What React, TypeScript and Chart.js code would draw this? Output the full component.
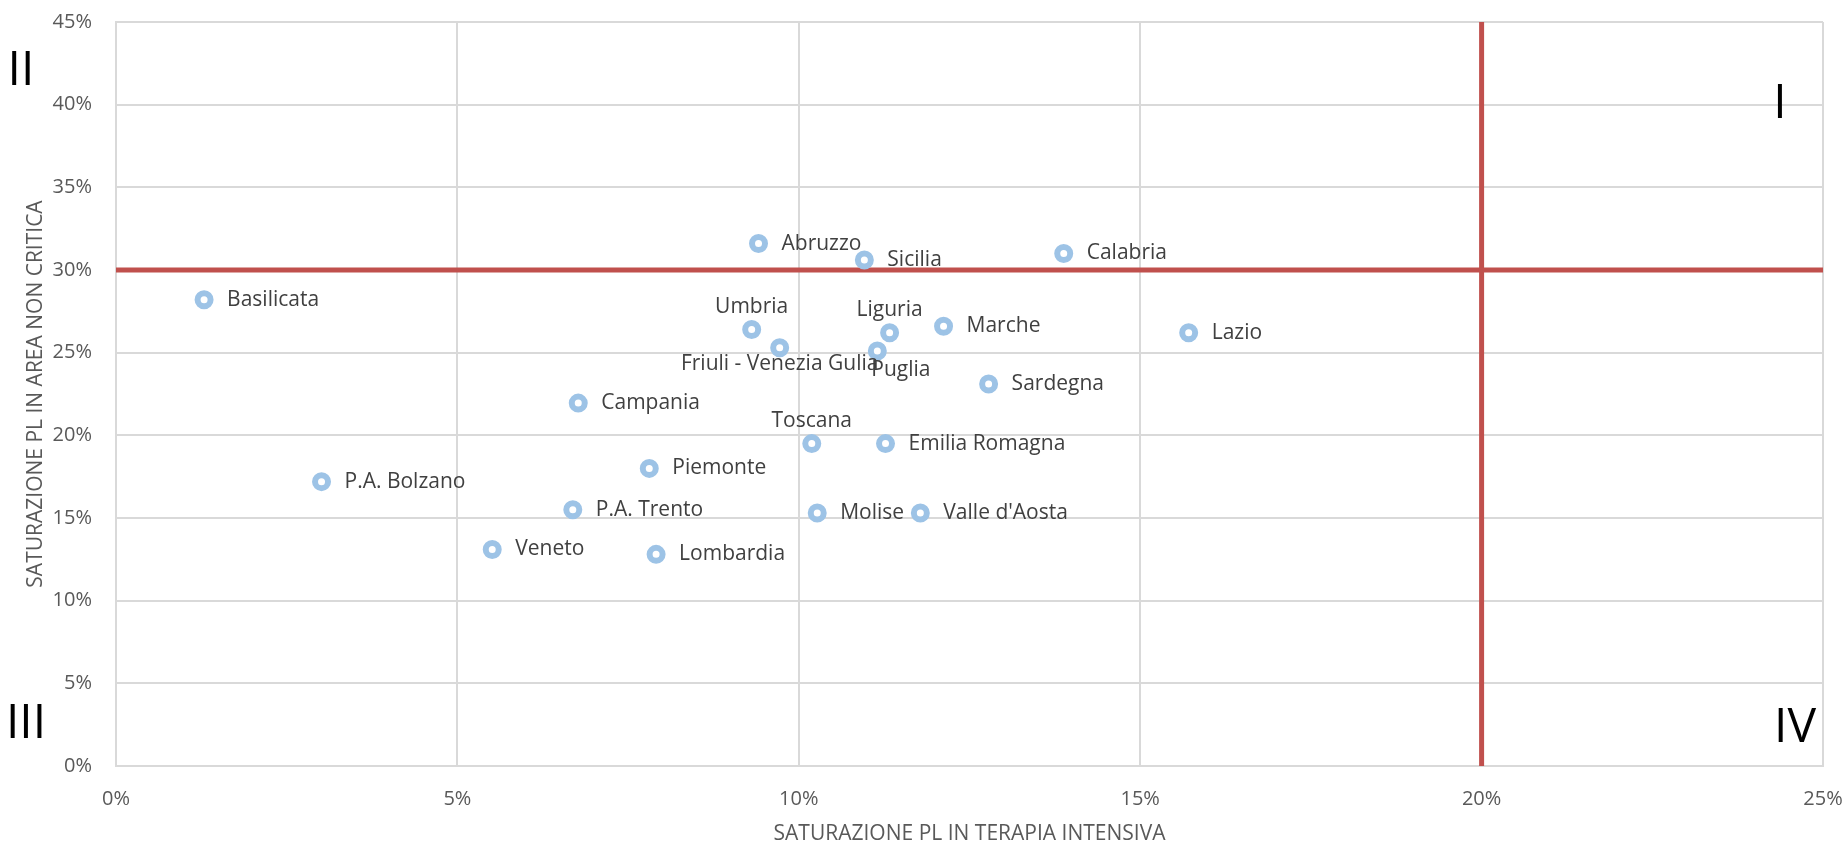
import React, { useEffect, useRef } from 'react';
import { Chart, registerables } from 'chart.js';

Chart.register(...registerables);

// ---- Data ----
const regions = [
  'Basilicata', 'P.A. Bolzano', 'Veneto', 'P.A. Trento', 'Campania', 'Piemonte', 'Lombardia',
  'Umbria', 'Abruzzo', 'Friuli - Venezia Gulia', 'Toscana', 'Molise', 'Sicilia', 'Puglia',
  'Liguria', 'Emilia Romagna', "Valle d'Aosta", 'Marche', 'Sardegna', 'Calabria', 'Lazio',
];
// Saturazione PL in terapia intensiva (%)
const icuSaturation = [
  1.29, 3.01, 5.51, 6.69, 6.77, 7.81, 7.91,
  9.31, 9.41, 9.72, 10.19, 10.27, 10.96, 11.15,
  11.33, 11.27, 11.78, 12.12, 12.78, 13.88, 15.71,
];
// Saturazione PL in area non critica (%)
const nonCriticalSaturation = [
  28.2, 17.2, 13.1, 15.5, 21.95, 18.0, 12.8,
  26.4, 31.6, 25.3, 19.5, 15.3, 30.6, 25.1,
  26.2, 19.5, 15.3, 26.6, 23.1, 31.0, 26.2,
];
const labelPlacement = [
  'right', 'right', 'right', 'right', 'right', 'right', 'right',
  'above', 'right', 'below', 'above', 'right', 'right', 'below-right',
  'above', 'right', 'right', 'right', 'right', 'right', 'right',
];
const xAxisMax = 25;
const yAxisMax = 45;
const tickStep = 5;
const icuThreshold = 20;
const nonCriticalThreshold = 30;
const xTitle = 'SATURAZIONE PL IN TERAPIA INTENSIVA';
const yTitle = 'SATURAZIONE PL IN AREA NON CRITICA';
const quadrantNames = ['I', 'II', 'III', 'IV'];

const FONT = "'Open Sans', 'Noto Sans', sans-serif";

const pointLabelsPlugin = {
  id: 'pointLabels',
  afterDatasetsDraw(chart: any) {
    const meta = chart.getDatasetMeta(0);
    const ctx = chart.ctx;
    ctx.save();
    ctx.font = `21px ${FONT}`;
    ctx.fillStyle = '#404040';
    meta.data.forEach((el: any, i: number) => {
      const { x, y } = el.getProps(['x', 'y'], true);
      const p = labelPlacement[i];
      const text = regions[i];
      ctx.textBaseline = 'middle';
      if (p === 'right') {
        ctx.textAlign = 'left';
        ctx.fillText(text, x + 23, y);
      } else if (p === 'above') {
        ctx.textAlign = 'center';
        ctx.fillText(text, x, y - 23);
      } else if (p === 'below') {
        ctx.textAlign = 'center';
        ctx.fillText(text, x, y + 16);
      } else if (p === 'below-right') {
        ctx.textAlign = 'left';
        ctx.fillText(text, x - 6, y + 19);
      }
    });
    ctx.restore();
  },
};

const quadrantPlugin = {
  id: 'quadrants',
  afterDraw(chart: any) {
    const { left, right, top, bottom } = chart.chartArea;
    const ctx = chart.ctx;
    ctx.save();
    ctx.font = `48px ${FONT}`;
    ctx.fillStyle = '#000000';
    ctx.textAlign = 'center';
    ctx.textBaseline = 'middle';
    const pos = [
      [right - 43, top + 82],
      [left - 95, top + 49],
      [left - 90, bottom - 42],
      [right - 28, bottom - 38],
    ];
    quadrantNames.forEach((q, i) => ctx.fillText(q, pos[i][0], pos[i][1]));
    ctx.restore();
  },
};

export default function App() {
  const canvasRef = useRef<HTMLCanvasElement | null>(null);

  useEffect(() => {
    document.body.style.margin = '0';
    const canvas = canvasRef.current;
    if (!canvas) return;
    const points = regions.map((_, i) => ({ x: icuSaturation[i], y: nonCriticalSaturation[i] }));
    const chart = new Chart(canvas, {
      type: 'scatter',
      data: {
        datasets: [
          {
            label: 'Regioni',
            data: points,
            pointRadius: 6.5,
            pointBorderWidth: 6,
            pointBackgroundColor: '#FFFFFF',
            pointBorderColor: '#9DC3E6',
            order: 0,
          },
          {
            label: 'Soglia area non critica',
            type: 'line',
            data: [{ x: 0, y: nonCriticalThreshold }, { x: xAxisMax, y: nonCriticalThreshold }],
            borderColor: '#C0504D',
            borderWidth: 5,
            pointRadius: 0,
            order: 1,
          } as any,
          {
            label: 'Soglia terapia intensiva',
            type: 'line',
            data: [{ x: icuThreshold, y: 0 }, { x: icuThreshold, y: yAxisMax }],
            borderColor: '#C0504D',
            borderWidth: 5,
            pointRadius: 0,
            order: 1,
          } as any,
        ],
      },
      options: {
        responsive: false,
        animation: false,
        devicePixelRatio: 1,
        layout: { padding: { top: 22, right: 24, left: 0, bottom: 0 } },
        plugins: {
          legend: { display: false },
          tooltip: { enabled: false },
        },
        scales: {
          x: {
            type: 'linear',
            min: 0,
            max: xAxisMax,
            afterFit: (s: any) => { s.height = 79; },
            ticks: {
              stepSize: tickStep,
              callback: (v: any) => `${v}%`,
              color: '#595959',
              font: { family: FONT, size: 20 },
              padding: 0,
              maxRotation: 0,
            },
            grid: { color: '#D9D9D9', lineWidth: 2, drawTicks: true, tickLength: 21, tickColor: 'rgba(0,0,0,0)' },
            border: { color: '#D9D9D9', width: 2 },
            title: {
              display: true,
              text: xTitle,
              color: '#595959',
              font: { family: FONT, size: 21, lineHeight: 1.05 },
              padding: { top: 0, bottom: 0 },
            },
          },
          y: {
            type: 'linear',
            min: 0,
            max: yAxisMax,
            afterFit: (s: any) => { s.width = 116; },
            ticks: {
              stepSize: tickStep,
              callback: (v: any) => `${v}%`,
              color: '#595959',
              font: { family: FONT, size: 20 },
              padding: 0,
            },
            grid: { color: '#D9D9D9', lineWidth: 2, drawTicks: true, tickLength: 24, tickColor: 'rgba(0,0,0,0)' },
            border: { color: '#D9D9D9', width: 2 },
            title: {
              display: true,
              text: yTitle,
              color: '#595959',
              font: { family: FONT, size: 21 },
              padding: { top: 23, bottom: 0 },
            },
          },
        },
      },
      plugins: [pointLabelsPlugin, quadrantPlugin],
    });
    return () => chart.destroy();
  }, []);

  return (
    <div style={{ width: 1847, height: 845 }}>
      <canvas ref={canvasRef} width={1847} height={845} style={{ display: 'block' }} />
    </div>
  );
}
